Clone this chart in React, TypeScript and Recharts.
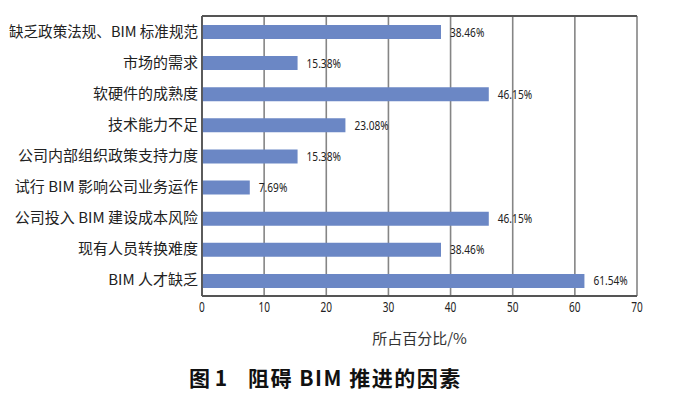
import React from 'react';
import { BarChart, Bar, XAxis, YAxis, CartesianGrid, LabelList } from 'recharts';

const categories = [
  '缺乏政策法规、BIM 标准规范',
  '市场的需求',
  '软硬件的成熟度',
  '技术能力不足',
  '公司内部组织政策支持力度',
  '试行 BIM 影响公司业务运作',
  '公司投入 BIM 建设成本风险',
  '现有人员转换难度',
  'BIM 人才缺乏',
];
const shares = [38.46, 15.38, 46.15, 23.08, 15.38, 7.69, 46.15, 38.46, 61.54];
const xTicks = [0, 10, 20, 30, 40, 50, 60, 70];

const data = categories.map((name, i) => ({ name, value: shares[i] }));

const sans = '"Noto Sans", "DejaVu Sans", sans-serif';
const cjk = '"Noto Sans CJK SC", "Noto Sans", sans-serif';

// rough text width so that long labels can be squeezed instead of wrapped
const guessWidth = (s: string, size: number) =>
  s.split('').reduce((w, c) => w + (c.charCodeAt(0) > 255 ? size : c === ' ' ? size * 0.26 : size * 0.6), 0);

const CategoryTick = (props: any) => {
  const { x, y, payload } = props;
  const label = String(payload.value);
  const maxW = 189;
  const w = guessWidth(label, 15);
  return (
    <text
      x={x}
      y={y}
      dy={5}
      textAnchor="end"
      fontSize={15}
      fill="#222"
      fontFamily={cjk}
      {...(w > maxW ? { textLength: maxW, lengthAdjust: 'spacingAndGlyphs' } : {})}
    >
      {label}
    </text>
  );
};

const NumberTick = (props: any) => {
  const { x, y, payload } = props;
  return (
    <g transform={`translate(${x},${y}) scale(0.72,1)`}>
      <text x={0} y={0} dy={9} textAnchor="middle" fontSize={14} fill="#222" fontFamily={sans}>
        {payload.value}
      </text>
    </g>
  );
};

const ValueLabel = (props: any) => {
  const { x, y, width, height, value } = props;
  return (
    <g transform={`translate(${x + width + 9},${y + height / 2}) scale(0.78,1)`}>
      <text x={0} y={0} dy={4.5} fontSize={13} fill="#222" fontFamily={sans}>
        {`${Number(value).toFixed(2)}%`}
      </text>
    </g>
  );
};

const App = () => {
  return (
    <div style={{ position: 'absolute', left: 0, top: 0, width: 678, height: 395, background: '#fff' }}>
      <BarChart
        width={678}
        height={395}
        data={data}
        layout="vertical"
        margin={{ top: 16, right: 41, bottom: 59, left: 0 }}
        barCategoryGap={8}
      >
        <CartesianGrid horizontal={false} vertical stroke="#858585" strokeWidth={1.6} />
        <CartesianGrid vertical={false} horizontal horizontalPoints={[16]} stroke="#555" strokeWidth={1.8} />
        <XAxis
          type="number"
          domain={[0, 70]}
          ticks={xTicks}
          tickLine={false}
          tickSize={0}
          tickMargin={7}
          axisLine={{ stroke: '#555', strokeWidth: 1.8 }}
          tick={<NumberTick />}
          height={40}
          label={{
            value: '所占百分比/%',
            position: 'insideBottom',
            offset: 0,
            dy: 8,
            style: { fontSize: 15, fill: '#333', fontFamily: cjk },
          }}
        />
        <YAxis
          type="category"
          dataKey="name"
          width={202}
          tickLine={false}
          tickSize={0}
          tickMargin={4}
          interval={0}
          axisLine={{ stroke: '#555', strokeWidth: 1.8 }}
          tick={<CategoryTick />}
        />
        <YAxis
          yAxisId="right"
          orientation="right"
          type="category"
          dataKey="name"
          width={0}
          tick={false}
          tickLine={false}
          axisLine={{ stroke: '#555', strokeWidth: 1.8 }}
        />
        <Bar dataKey="value" fill="#6b87c5" barSize={14} isAnimationActive={false}>
          <LabelList dataKey="value" content={<ValueLabel />} />
        </Bar>
      </BarChart>
      <div
        style={{
          position: 'absolute',
          left: 189,
          top: 365,
          fontFamily: cjk,
          fontWeight: 'bold',
          fontSize: 21,
          lineHeight: '24px',
          color: '#111',
          whiteSpace: 'pre',
        }}
      >
        图 1
      </div>
      <div
        style={{
          position: 'absolute',
          left: 248,
          top: 365,
          fontFamily: cjk,
          fontWeight: 'bold',
          fontSize: 21,
          lineHeight: '24px',
          letterSpacing: 1.5,
          color: '#111',
          whiteSpace: 'pre',
        }}
      >
        阻碍 BIM 推进的因素
      </div>
    </div>
  );
};

export default App;
